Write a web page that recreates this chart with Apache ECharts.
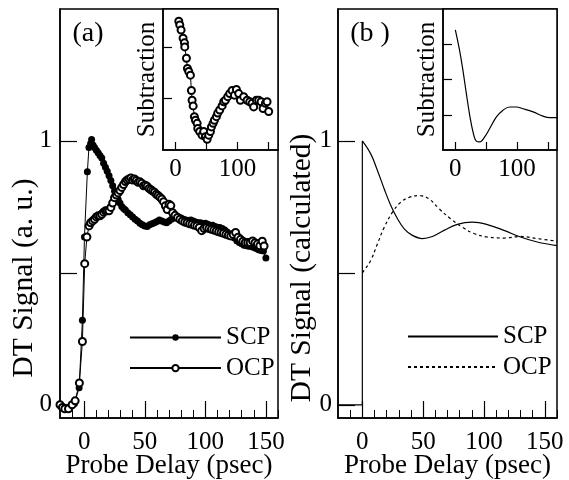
<!DOCTYPE html>
<html><head><meta charset="utf-8">
<script src="https://cdn.jsdelivr.net/npm/echarts@6/dist/echarts.min.js"></script>
<style>html,body{margin:0;padding:0;background:#fff}#c{width:569px;height:480px}</style>
</head><body><div id="c"></div>
<script>
// ---- Panel (a) measured data ----
const scpTimeA = [-20,-17,-14,-11,-8,-4.2,-1.5,0.2,2.6,3.9,5.3,6.1,7.2,8.5,10,11.5,13,14.5,16,17.5,19,20.5,22,23.5,25,26.5,28,29.5,31,32.5,34,36,38,40,42,44,46,48,50,52,54,56,58,60,62,64,66,68,70,72,74,76,78,80,82,84,86,88,90,92,94,96,98,100,102,104,106,108,110,112,114,116,118,120,122,124,126,128,130,132,134,136,138,140,142,144,146,148,150];
const scpValA  = [0,-0.008,-0.01,-0.005,0.005,0.065,0.32,0.636,0.883,0.975,0.99,1.005,0.985,0.975,0.965,0.955,0.945,0.935,0.915,0.9,0.885,0.868,0.85,0.83,0.81,0.795,0.778,0.765,0.752,0.744,0.738,0.728,0.72,0.712,0.703,0.697,0.688,0.682,0.678,0.676,0.682,0.686,0.69,0.695,0.7,0.697,0.693,0.69,0.697,0.703,0.708,0.71,0.712,0.708,0.703,0.7,0.698,0.7,0.697,0.693,0.69,0.69,0.686,0.688,0.684,0.68,0.68,0.676,0.673,0.672,0.668,0.662,0.655,0.648,0.64,0.632,0.622,0.615,0.61,0.605,0.603,0.601,0.6,0.596,0.592,0.588,0.585,0.583,0.556];

const ocpTimeA = [-20,-18,-16,-13,-10,-7.5,-4,-1.5,0.4,2.2,4,5.3,7,8.5,10,11.5,13,14.5,16,17.5,19,20.5,22,23.5,25,26.5,28,29.5,31,32.5,34,35.5,37,38.5,40,41.5,43,44.5,46,47.5,49,50.5,52,53.5,55,56.5,58,59.5,61,62.5,64,65.5,67,68.5,70,71.5,73,75,77,79,81,83,85,87,89,91,93,95,97,99,101,103,105,107,109,111,113,115,117,119,121,123,125,127,129,131,133,135,137,139,141,143,145,147,148.5];
const ocpValA  = [0,-0.01,-0.015,-0.015,0,0.015,0.083,0.24,0.535,0.636,0.678,0.69,0.697,0.703,0.712,0.716,0.716,0.722,0.73,0.735,0.735,0.735,0.748,0.765,0.785,0.795,0.803,0.812,0.824,0.835,0.846,0.852,0.856,0.86,0.852,0.856,0.85,0.843,0.845,0.84,0.83,0.832,0.828,0.82,0.815,0.81,0.806,0.798,0.793,0.787,0.78,0.77,0.754,0.74,0.76,0.755,0.728,0.718,0.71,0.703,0.697,0.693,0.69,0.686,0.684,0.68,0.678,0.672,0.66,0.668,0.672,0.668,0.665,0.662,0.659,0.656,0.653,0.65,0.646,0.643,0.64,0.645,0.653,0.635,0.627,0.62,0.615,0.615,0.615,0.621,0.614,0.609,0.603,0.62,0.602];

const subTimeA = [5.4,7,9.1,12.3,14.5,15,17.7,19.3,21.4,24.1,25.7,26.8,28.5,30.5,32.2,34.9,35.9,39,42.9,45.5,48.2,51,53.5,56.3,57.9,60.6,62.7,65.9,68,71.2,75.1,77.7,80.4,84.1,87.3,91.2,94.9,98.1,101.8,104.5,109.8,115.3,119.5,123.3,125.9,130.2,133.9,137.8,141,144.7,147.4,150];
const subValA  = [2.51,2.44,2.34,2.18,2.09,2.01,1.79,1.59,1.53,1.46,1.16,0.97,0.86,0.65,0.58,0.52,0.42,0.36,0.29,0.36,0.26,0.21,0.29,0.36,0.45,0.52,0.58,0.65,0.72,0.78,0.86,0.94,0.97,1.04,1.10,1.16,1.07,1.18,1.10,0.97,1.04,0.97,0.94,0.91,0.84,0.97,0.97,0.94,0.81,0.91,0.94,0.75];

// ---- Panel (b) calculated curves ----
const baseTimeB = [-20,0,0];
const baseValB  = [0,0,1.0];
const scpTimeB = [0,7,12.5,18,23.4,28.9,34.4,41.2,49.4,57.6,67.2,78.1,90.4,102.7,116.4,130,143.7,160];
const scpValB  = [1.0,0.95,0.887,0.818,0.755,0.705,0.667,0.642,0.63,0.638,0.661,0.684,0.692,0.683,0.661,0.636,0.617,0.603];
const ocpTimeB = [0,1.6,7,12.5,18,24.8,31.6,38.5,46.7,54.9,63.1,72.6,82.2,91.8,102.7,116.4,130,143.7,160];
const ocpValB  = [0.5,0.51,0.548,0.611,0.673,0.73,0.768,0.786,0.793,0.78,0.743,0.705,0.673,0.649,0.636,0.632,0.638,0.63,0.62];
const subTimeB = [0,7,12.4,17.9,23.3,28.6,34.1,39.5,47.6,55.8,66.7,77.4,88.3,99.2,110,126.2,142.4,153.3,165];
const subValB  = [3.41,2.82,2.25,1.6,0.99,0.52,0.25,0.23,0.37,0.61,0.94,1.13,1.22,1.22,1.17,1.08,0.96,0.92,0.92];

// ---- Ticks ----
const majorX = [0,50,100,150];
const minorX = [-10,10,20,30,40,60,70,80,90,110,120,130,140,160];
const mainYTicks = [0,0.5,1];
const mainYLabels = [0,1];
const insetXTicks = [0,50,100,150];
const insetXLabels = [0,100];
const insetAYTicks = [1,2];
const insetBYTicks = [1,2,3];

const FONT = 'Liberation Serif';
const pairs = (t, v) => t.map((x, i) => [x, v[i]]);
const blk = '#000';

function mainX(g) {
  return [
    { type:'value', gridIndex:g, min:-20, max:160, position:'bottom',
      axisLine:{show:true, onZero:false, lineStyle:{color:blk, width:1.5}},
      axisTick:{show:true, inside:true, length:17, customValues:majorX, lineStyle:{color:blk, width:1.2}},
      axisLabel:{show:true, customValues:majorX, margin:12, fontFamily:FONT, fontSize:25, color:blk},
      splitLine:{show:false},
      name:'Probe Delay (psec)', nameLocation:'middle', nameGap:34, nameMoveOverlap:false,
      nameTextStyle:{fontFamily:FONT, fontSize:27, color:blk} },
    { type:'value', gridIndex:g, min:-20, max:160, position:'bottom',
      axisLine:{show:false, onZero:false},
      axisTick:{show:true, inside:true, length:8, customValues:minorX, lineStyle:{color:blk, width:1}},
      axisLabel:{show:false}, splitLine:{show:false} }
  ];
}
function mainY(g, margin) {
  return { type:'value', gridIndex:g, min:-0.05, max:1.5,
    axisLine:{show:true, onZero:false, lineStyle:{color:blk, width:1.5}},
    axisTick:{show:true, inside:true, length:17, customValues:mainYTicks, lineStyle:{color:blk, width:1.2}},
    axisLabel:{show:true, customValues:mainYLabels, margin:margin, fontFamily:FONT, fontSize:25, color:blk},
    splitLine:{show:false} };
}
function insetX(g) {
  return { type:'value', gridIndex:g, min:-20, max:165, position:'bottom',
    axisLine:{show:true, onZero:false, lineStyle:{color:blk, width:1.5}},
    axisTick:{show:true, inside:true, length:8, customValues:insetXTicks, lineStyle:{color:blk, width:1.2}},
    axisLabel:{show:true, customValues:insetXLabels, margin:7, fontFamily:FONT, fontSize:25, color:blk},
    splitLine:{show:false} };
}
function insetY(g, max, ticks) {
  return { type:'value', gridIndex:g, min:0, max:max,
    axisLine:{show:true, onZero:false, lineStyle:{color:blk, width:1.5}},
    axisTick:{show:true, inside:true, length:9, customValues:ticks, lineStyle:{color:blk, width:1.2}},
    axisLabel:{show:false}, splitLine:{show:false},
    name:'Subtraction', nameLocation:'middle', nameGap:3, nameMoveOverlap:false,
    nameTextStyle:{fontFamily:FONT, fontSize:25, color:blk} };
}

const gridStyle = {show:true, borderColor:blk, borderWidth:1.5, backgroundColor:'#fff', outerBoundsMode:'none', containLabel:false};
const legendText = {fontFamily:FONT, fontSize:25, color:blk, lineHeight:25};
const noSym = {opacity:0};

const option = {
  animation:false,
  backgroundColor:'#fff',
  grid:[
    Object.assign({left:60, top:9, width:218, height:409}, gridStyle),
    Object.assign({left:338, top:9, width:219, height:409}, gridStyle),
    Object.assign({left:163, top:9, width:115, height:141}, gridStyle),
    Object.assign({left:443, top:9, width:114, height:141}, gridStyle)
  ],
  xAxis:[].concat(mainX(0), mainX(1), [insetX(2), insetX(3)]),
  yAxis:[mainY(0, 8), mainY(1, 6), insetY(2, 2.75, insetAYTicks), insetY(3, 4, insetBYTicks)],
  legend:[
    { orient:'vertical', left:124, top:320, data:['SCP','OCP'], itemWidth:91, itemHeight:8, itemGap:5.6,
      textStyle:legendText, selectedMode:false },
    { orient:'vertical', left:402, top:319,
      data:[{name:'SCP ', itemStyle:noSym}, {name:'OCP ', itemStyle:noSym}],
      itemWidth:90, itemHeight:8, itemGap:5.6,
      formatter:n => n.trim(), textStyle:legendText, selectedMode:false }
  ],
  graphic:[
    { type:'text', x:88, y:34, style:{text:'(a)', font:'28px "Liberation Serif"', fill:blk, textAlign:'center', textVerticalAlign:'middle'} },
    { type:'text', x:370, y:34, style:{text:'(b )', font:'28px "Liberation Serif"', fill:blk, textAlign:'center', textVerticalAlign:'middle'} },
    { type:'text', x:24, y:278, rotation:Math.PI/2, style:{text:'DT Signal (a. u.)', font:'29.5px "Liberation Serif"', fill:blk, textAlign:'center', textVerticalAlign:'middle'} },
    { type:'text', x:302, y:268, rotation:Math.PI/2, style:{text:'DT Signal (calculated)', font:'29.5px "Liberation Serif"', fill:blk, textAlign:'center', textVerticalAlign:'middle'} }
  ],
  series:[
    { name:'SCP', type:'line', xAxisIndex:0, yAxisIndex:0, data:pairs(scpTimeA, scpValA),
      symbol:'circle', symbolSize:7, showSymbol:true, itemStyle:{color:blk},
      lineStyle:{color:blk, width:1} },
    { name:'OCP', type:'line', xAxisIndex:0, yAxisIndex:0, data:pairs(ocpTimeA, ocpValA),
      symbol:'emptyCircle', symbolSize:7, showSymbol:true, itemStyle:{color:blk, borderWidth:1},
      lineStyle:{color:blk, width:1} },
    { name:'subA', type:'line', xAxisIndex:4, yAxisIndex:2, data:pairs(subTimeA, subValA),
      symbol:'emptyCircle', symbolSize:7, showSymbol:true, itemStyle:{color:blk, borderWidth:1},
      lineStyle:{color:blk, width:1} },
    { name:'base', type:'line', xAxisIndex:2, yAxisIndex:1, data:pairs(baseTimeB, baseValB),
      symbol:'none', itemStyle:{color:blk}, lineStyle:{color:blk, width:1.2} },
    { name:'SCP ', type:'line', xAxisIndex:2, yAxisIndex:1, data:pairs(scpTimeB, scpValB),
      symbol:'none', smooth:0.4, itemStyle:{color:blk}, lineStyle:{color:blk, width:1.2} },
    { name:'OCP ', type:'line', xAxisIndex:2, yAxisIndex:1, data:pairs(ocpTimeB, ocpValB),
      symbol:'none', smooth:0.4, itemStyle:{color:blk}, lineStyle:{color:blk, width:1.2, type:[3,3]} },
    { name:'subB', type:'line', xAxisIndex:5, yAxisIndex:3, data:pairs(subTimeB, subValB),
      symbol:'none', smooth:0.4, itemStyle:{color:blk}, lineStyle:{color:blk, width:1.2} }
  ]
};
const chart = echarts.init(document.getElementById('c'));
chart.setOption(option);
</script>
</body></html>
